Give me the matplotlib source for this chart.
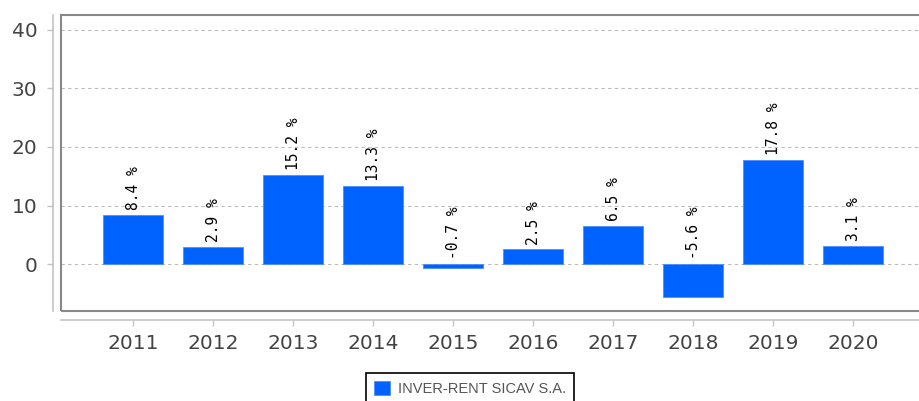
import matplotlib.pyplot as plt
from matplotlib.patches import Rectangle

years = ['2011', '2012', '2013', '2014', '2015', '2016', '2017', '2018', '2019', '2020']
returns = [8.4, 2.9, 15.2, 13.3, -0.7, 2.5, 6.5, -5.6, 17.8, 3.1]
fund_name = 'INVER-RENT SICAV S.A.'

bar_color = '#0062ff'

fig = plt.figure(figsize=(9.2, 4.01), dpi=100)
ax = fig.add_axes([61 / 920, 90 / 401, 866 / 920, 296 / 401])

x = list(range(len(years)))
bars = ax.bar(x, returns, width=0.75, color=bar_color, edgecolor='#4d8dff',
              linewidth=0.6, label=fund_name, zorder=3)

for xi, v in zip(x, returns):
    ax.annotate(f'{v} %', (xi, max(v, 0)), xytext=(0, 3.5), textcoords='offset points',
                rotation=90, ha='center', va='bottom', fontsize=10.5,
                family='DejaVu Sans Mono', color='black')

ax.set_xlim(-0.9, 9.92)
ax.set_ylim(-8.03, 42.56)
ax.set_yticks([0, 10, 20, 30, 40])
ax.set_xticks(x)
ax.set_xticklabels(years)
ax.grid(axis='y', color='#bbbbbb', linestyle=(0, (3, 3)), linewidth=0.8, zorder=0)

# inner frame around plot area
ax.add_patch(Rectangle((0, 0), 1, 1, transform=ax.transAxes, fill=False,
                       edgecolor='#888888', linewidth=1.5, clip_on=False, zorder=5))

for side in ['top', 'right']:
    ax.spines[side].set_visible(False)
ax.spines['left'].set_position(('outward', 6))
ax.spines['bottom'].set_position(('outward', 6.5))
for side in ['left', 'bottom']:
    ax.spines[side].set_color('#c4c4c4')
    ax.spines[side].set_linewidth(1.2)

ax.tick_params(axis='both', colors='#c4c4c4', labelcolor='#444444', labelsize=14.5,
               length=4, width=1)
ax.tick_params(axis='x', pad=6)
ax.tick_params(axis='y', pad=7)

leg = fig.legend(handles=[bars], loc='upper center', bbox_to_anchor=(470 / 920, 35 / 401),
                 frameon=True, fancybox=False, edgecolor='black',
                 handlelength=1.1, handleheight=1.1, borderpad=0.5, handletextpad=0.6,
                 labelcolor='#555555', framealpha=1,
                 prop={'family': ['Liberation Sans Narrow', 'Liberation Sans', 'DejaVu Sans'],
                       'size': 10.5})
leg.get_frame().set_linewidth(1.2)

fig.savefig('out.png', dpi=100)
